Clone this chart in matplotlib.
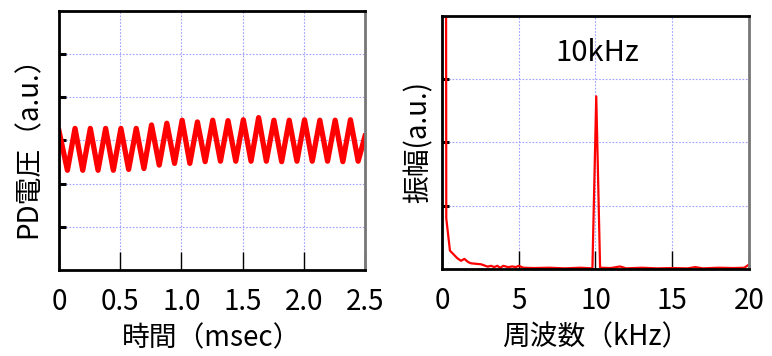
import matplotlib
matplotlib.use("Agg")
import matplotlib.pyplot as plt

plt.rcParams['font.family'] = ['Noto Sans CJK JP', 'DejaVu Sans']

# PD voltage waveform: vertices of the triangle-like signal (msec, a.u.)
time_ms = [0.0, 0.069, 0.131, 0.194, 0.256, 0.319, 0.381, 0.444, 0.506, 0.569,
           0.631, 0.694, 0.756, 0.819, 0.881, 0.944, 1.006, 1.069, 1.131, 1.194,
           1.256, 1.319, 1.381, 1.444, 1.506, 1.569, 1.631, 1.694, 1.756, 1.819,
           1.881, 1.944, 2.006, 2.069, 2.131, 2.194, 2.256, 2.319, 2.381, 2.444, 2.5]
pd_volt = [3.22, 2.31, 3.28, 2.31, 3.28, 2.31, 3.28, 2.31, 3.28, 2.33,
           3.28, 2.35, 3.36, 2.43, 3.40, 2.47, 3.47, 2.47, 3.43, 2.51,
           3.47, 2.52, 3.46, 2.52, 3.48, 2.52, 3.53, 2.52, 3.47, 2.51,
           3.47, 2.52, 3.48, 2.52, 3.47, 2.52, 3.47, 2.51, 3.48, 2.52, 3.10]

# spectrum (kHz, a.u.)
freq_khz = [0.26, 0.28, 0.52, 0.8, 1.0, 1.24, 1.46, 1.7, 1.89, 2.3, 2.54, 2.98,
            3.2, 3.4, 3.6, 3.8, 4.0, 4.3, 4.6, 4.8, 5.0, 5.3, 6.0, 7.0, 8.0, 9.0,
            9.8, 10.05, 10.3, 11.0, 11.6, 12.0, 13.0, 14.0, 15.0, 16.0, 16.5,
            17.0, 18.0, 19.0, 19.7, 20.0]
amplitude = [6.0, 0.8, 0.29, 0.22, 0.17, 0.13, 0.16, 0.11, 0.09, 0.08, 0.075, 0.037,
             0.05, 0.03, 0.05, 0.02, 0.05, 0.03, 0.04, 0.03, 0.05, 0.02, 0.015, 0.02,
             0.01, 0.02, 0.01, 2.73, 0.02, 0.015, 0.04, 0.01, 0.02, 0.01, 0.015, 0.01,
             0.03, 0.01, 0.02, 0.015, 0.02, 0.07]

left_ticks = [0, 0.5, 1.0, 1.5, 2.0, 2.5]
left_ticklabels = ['0', '0.5', '1.0', '1.5', '2.0', '2.5']
right_ticks = [0, 5, 10, 15, 20]
right_ticklabels = ['0', '5', '10', '15', '20']

fig = plt.figure(figsize=(7.72, 3.56), dpi=100)
ax1 = fig.add_axes([0.0764, 0.2416, 0.3964, 0.7275])
ax2 = fig.add_axes([0.5725, 0.2444, 0.3977, 0.7107])

grid_kw = dict(color='#a0a0ff', linestyle=(0, (1.5, 1.5)), linewidth=0.8)

def style_axes(ax):
    for side in ['top', 'left', 'bottom']:
        ax.spines[side].set_linewidth(2)
        ax.spines[side].set_color('black')
    ax.spines['right'].set_linewidth(2)
    ax.spines['right'].set_color('#777777')
    ax.tick_params(axis='x', direction='in', length=13, width=1, pad=12,
                   labelsize=20, top=False)
    ax.tick_params(axis='y', direction='in', length=5, width=2.2,
                   labelleft=False, right=False)
    ax.grid(True, **grid_kw)
    ax.set_axisbelow(True)

# left: time waveform
ax1.plot(time_ms, pd_volt, color='red', linewidth=3.8, solid_joinstyle='round')
ax1.set_xlim(0, 2.5)
ax1.set_ylim(0, 6)
ax1.set_xticks(left_ticks)
ax1.set_xticklabels(left_ticklabels)
ax1.set_yticks([1, 2, 3, 4, 5])
style_axes(ax1)
ax1.set_xlabel('時間（msec）', fontsize=20, labelpad=5)
ax1.set_ylabel('PD電圧（a.u.）', fontsize=20, labelpad=11)

# right: spectrum
ax2.plot(freq_khz, amplitude, color='red', linewidth=1.6)
ax2.set_xlim(0, 20)
ax2.set_ylim(0, 4)
ax2.set_xticks(right_ticks)
ax2.set_xticklabels(right_ticklabels)
ax2.set_yticks([1, 2, 3])
style_axes(ax2)
ax2.set_xlabel('周波数（kHz）', fontsize=20, labelpad=5)
ax2.set_ylabel('振幅(a.u.)', fontsize=20, labelpad=6)
ax2.text(10.1, 3.41, '10kHz', fontsize=21, ha='center', va='center')

fig.savefig('out.png', dpi=100)
